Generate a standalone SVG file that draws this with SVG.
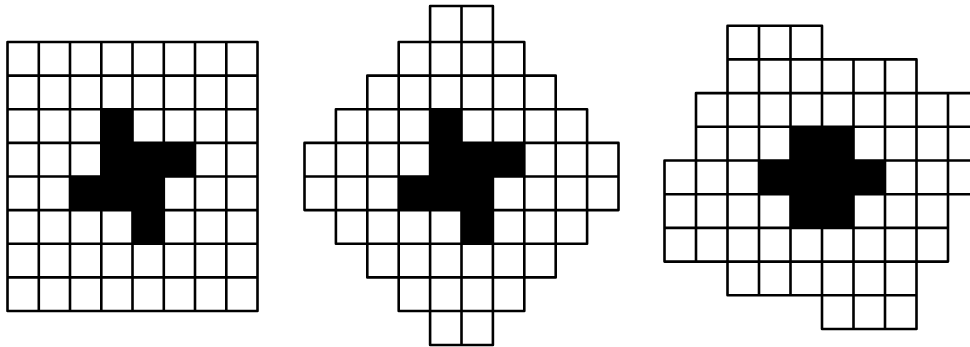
<svg xmlns="http://www.w3.org/2000/svg" width="970" height="347" viewBox="0 0 970 347">
<style>
.fill{fill:#000;stroke:none}
.grid{fill:none;stroke:#000;stroke-width:2.6;stroke-linecap:round;stroke-linejoin:round}
</style>
<rect x="0" y="0" width="970" height="347" fill="#fff"/>
<g id="grid-square">
<path class="fill" d="M101.3 109.3H132.5V142.9H195V176.5H163.8V243.8H132.5V210.1H70V176.5H101.3Z"/>
<path class="grid" d="M7.5 42H257.5V311H7.5Z
M38.8 42V311M70 42V311M101.3 42V311M132.5 42V311M163.8 42V311M195 42V311M226.3 42V311
M7.5 75.6H257.5M7.5 109.3H257.5M7.5 142.9H257.5M7.5 176.5H257.5M7.5 210.1H257.5M7.5 243.8H257.5M7.5 277.4H257.5"/>
</g>
<g id="grid-diamond">
<path class="fill" d="M430.1 109.3H461.5V142.9H524.3V176.5H492.9V243.8H461.5V210.1H398.7V176.5H430.1Z"/>
<path class="grid" d="M430.1 6H492.9M398.7 42H524.3M367.3 75.6H555.7M335.9 109.3H587.1M304.5 142.9H618.5M304.5 176.5H618.5M304.5 210.1H618.5M335.9 243.8H587.1M367.3 277.4H555.7M398.7 311H524.3M430.1 345H492.9
M430.1 6V345M461.5 6V345M492.9 6V345M398.7 42V311M524.3 42V311M367.3 75.6V277.4M555.7 75.6V277.4M335.9 109.3V243.8M587.1 109.3V243.8M304.5 142.9V210.1M618.5 142.9V210.1"/>
</g>
<g id="grid-irregular">
<path class="fill" d="M790.5 126.8H853.5V160.5H885V194.2H853.5V227.9H790.5V194.2H759V160.5H790.5Z"/>
<path class="grid" d="M727.5 25.7H822M727.5 59.4H916.5M696 93.1H979.5M696 126.8H979.5M664.5 160.5H979.5M664.5 194.2H979.5M664.5 227.9H948M664.5 261.6H948M727.5 295.3H916.5M822 329H916.5
M664.5 160.5V261.6M696 93.1V261.6M727.5 25.7V295.3M759 25.7V295.3M790.5 25.7V295.3M822 25.7V329M853.5 59.4V329M885 59.4V329M916.5 59.4V329M948 93.1V261.6"/>
</g>
</svg>
